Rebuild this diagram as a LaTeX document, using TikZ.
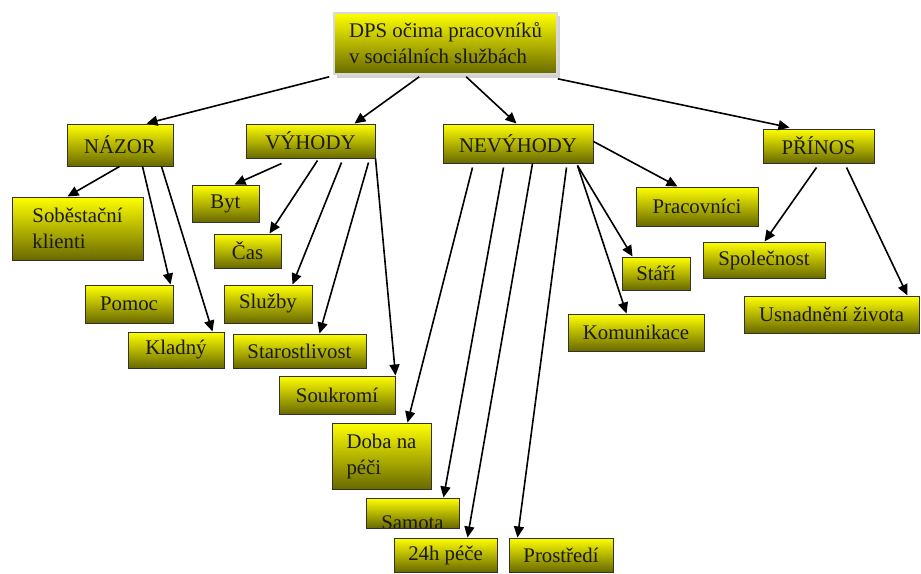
\documentclass[tikz,border=0pt]{standalone}
\usepackage{fontspec}
\setmainfont{Liberation Serif}
\usetikzlibrary{arrows.meta}
\definecolor{boxtop}{RGB}{255,255,0}
\definecolor{boxmid}{RGB}{228,228,0}
\definecolor{boxbot}{RGB}{105,105,0}
\definecolor{boxline}{RGB}{50,50,40}
% \cbox[options]{name}{left}{top}{right}{bottom}{text}
\newcommand\cbox[7][]{%
  \pgfmathsetmacro\cbx{(#3+#5)/2}%
  \pgfmathsetmacro\cby{(#4+#6)/2}%
  \pgfmathsetmacro\cbw{#5-#3}%
  \pgfmathsetmacro\cbh{#6-#4}%
  \node[box, minimum width=\cbw pt, minimum height=\cbh pt, #1] (#2) at (\cbx,\cby) {#7};}
\begin{document}
\begin{tikzpicture}[x=1pt,y=-1pt,
  boxfont/.style={font=\fontsize{20.8}{26}\selectfont, text=black!90},
  box/.style={inner sep=0pt, draw=boxline, line width=1pt,
    top color=boxtop, middle color=boxmid, bottom color=boxbot, boxfont},
  conn/.style={line width=1.6pt, -{Triangle[length=11pt,width=10pt]}}]
\useasboundingbox (0,0) rectangle (921,573);

% title box with a pale frame
\fill[gray!35] (337,16) rectangle (560,78);
\cbox[draw=gray!30, line width=1.6pt, align=left]{root}{334}{13}{557}{74}
  {DPS očima pracovníků\\v sociálních službách}

% first level
\cbox{nazor}{67}{124}{173}{166}{NÁZOR}
\cbox{vyhody}{246}{124}{375}{158}{VÝHODY}
\cbox{nevyhody}{443}{124}{593}{163}{NEVÝHODY}
\cbox{prinos}{763}{129}{874}{163}{PŘÍNOS}

% NÁZOR
\cbox[align=left]{sob}{12}{197}{143}{260}{Soběstační\\klienti}
\cbox{pomoc}{85}{285}{173}{323}{Pomoc}
\cbox{kladny}{128}{332}{224}{368}{Kladný}

% VÝHODY
\cbox{byt}{192}{185}{259}{222}{Byt}
\cbox{cas}{214}{234}{281}{268}{Čas}
\cbox{sluzby}{224}{285}{312}{323}{Služby}
\cbox{staro}{233}{334}{366}{368}{Starostlivost}
\cbox{soukromi}{279}{376}{395}{414}{Soukromí}

% NEVÝHODY
\cbox[align=left]{doba}{332}{423}{431}{489}{Doba na\\péči}
\cbox[path picture={\node[boxfont]
    at ([yshift=-10pt]path picture bounding box.center) {Samota};}]
  {samota}{366}{498}{459}{528}{}
\cbox{h24}{394}{538}{497}{572}{24h péče}
\cbox{prostredi}{509}{538}{613}{572}{Prostředí}
\cbox{pracovnici}{636}{187}{758}{226}{Pracovníci}
\cbox{stari}{622}{257}{690}{290}{Stáří}
\cbox{komunikace}{568}{314}{704}{351}{Komunikace}

% PŘÍNOS
\cbox{spolecnost}{703}{242}{825}{278}{Společnost}
\cbox{usnadneni}{744}{296}{919}{333}{Usnadnění života}

% connectors from the title
\draw[conn] ([xshift=-4pt,yshift=-2pt]root.south west) -- ([xshift=80pt]nazor.north west);
\draw[conn] ([xshift=86pt,yshift=-2pt]root.south west) -- ([xshift=109pt]vyhody.north west);
\draw[conn] ([xshift=133pt,yshift=-2pt]root.south west) -- ([xshift=74pt]nevyhody.north west);
\draw[conn] ([yshift=-4pt]root.south east) -- ([xshift=27pt,yshift=1pt]prinos.north west);

% NÁZOR
\draw[conn] ([xshift=53pt]nazor.south west) -- ([xshift=56pt]sob.north west);
\draw[conn] ([xshift=76pt]nazor.south west) -- ([xshift=-3pt]pomoc.north east);
\draw[conn] ([xshift=95pt]nazor.south west) -- ([xshift=85pt]kladny.north west);

% VÝHODY
\draw[conn] ([xshift=36pt,yshift=-5pt]vyhody.south west) -- ([xshift=43pt]byt.north west);
\draw[conn] ([xshift=72pt,yshift=-2pt]vyhody.south west) -- ([xshift=56pt]cas.north west);
\draw[conn] ([xshift=96pt,yshift=-4pt]vyhody.south west) -- ([xshift=69pt]sluzby.north west);
\draw[conn] ([xshift=123pt,yshift=-4pt]vyhody.south west) -- ([xshift=87pt]staro.north west);
\draw[conn] (vyhody.south east) -- (soukromi.north east);

% NEVÝHODY
\draw[conn] ([xshift=30pt,yshift=-4pt]nevyhody.south west) -- ([xshift=76pt]doba.north west);
\draw[conn] ([xshift=61pt,yshift=-4pt]nevyhody.south west) -- ([xshift=78pt]samota.north west);
\draw[conn] ([xshift=90pt]nevyhody.south west) -- ([xshift=74pt]h24.north west);
\draw[conn] ([xshift=124pt,yshift=-4pt]nevyhody.south west) -- ([xshift=9pt]prostredi.north west);
\draw[conn] ([yshift=-18pt]nevyhody.north east) -- ([xshift=42pt]pracovnici.north west);
\draw[conn] ([xshift=-16pt,yshift=-2pt]nevyhody.south east) -- ([xshift=11pt]stari.north west);
\draw[conn] ([xshift=-16pt,yshift=-2pt]nevyhody.south east) -- ([xshift=59pt]komunikace.north west);

% PŘÍNOS
\draw[conn] ([xshift=54pt,yshift=-4pt]prinos.south west) -- ([xshift=62pt]spolecnost.north west);
\draw[conn] ([xshift=84pt,yshift=-4pt]prinos.south west) -- ([xshift=-12pt]usnadneni.north east);
\end{tikzpicture}
\end{document}
